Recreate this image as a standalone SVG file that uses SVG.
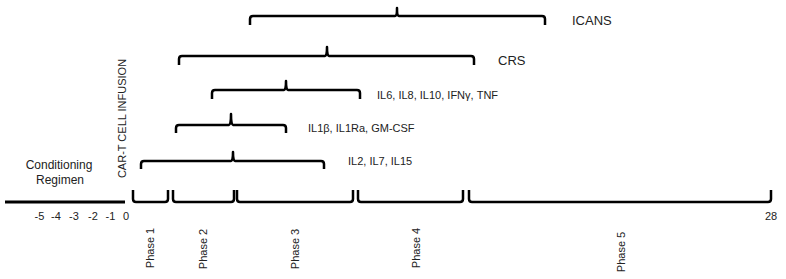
<svg xmlns="http://www.w3.org/2000/svg" width="786" height="279" viewBox="0 0 786 279">
<style>
.br{fill:none;stroke:#000;stroke-width:2.5;stroke-linejoin:round;stroke-linecap:butt}
.t{font-family:"Liberation Sans",Arial,sans-serif;font-size:11px;fill:#222}
.tl{font-family:"Liberation Sans",Arial,sans-serif;font-size:13px;fill:#222}
.tm{text-anchor:middle}
</style>
<rect width="786" height="279" fill="#fff"/>
<g id="connectors">
<line x1="5" y1="202" x2="125" y2="202" stroke="#000" stroke-width="3"/>
</g>
<g id="icans">
<path class="br" d="M250 25 V19 Q250 16 253 16 H395 Q397 16 397 8 Q397 16 399 16 H542 Q545 16 545 19 V25"/>
<text class="tl" x="572" y="25">ICANS</text>
</g>
<g id="crs">
<path class="br" d="M179 65 V59 Q179 56 182 56 H325 Q327 56 327 47 Q327 56 329 56 H471 Q474 56 474 59 V65"/>
<text class="tl" x="498" y="65">CRS</text>
</g>
<g id="il6">
<path class="br" d="M212 99 V93 Q212 90 215 90 H284 Q286 90 286 81 Q286 90 288 90 H357 Q360 90 360 93 V99"/>
<text class="t" x="377" y="99">IL6, IL8, IL10, IFNγ, TNF</text>
</g>
<g id="il1b">
<path class="br" d="M176 133 V128 Q176 125 179 125 H229 Q231 125 231 114 Q231 125 233 125 H283 Q286 125 286 128 V133"/>
<text class="t" x="308" y="132">IL1β, IL1Ra, GM-CSF</text>
</g>
<g id="il2">
<path class="br" d="M141 169 V164 Q141 161 144 161 H231 Q233 161 233 152 Q233 161 235 161 H321 Q324 161 324 164 V169"/>
<text class="t" x="348" y="165">IL2, IL7, IL15</text>
</g>
<g id="conditioning">
<text class="t tm" style="font-size:12px" x="59" y="169">Conditioning</text>
<text class="t tm" style="font-size:12px" x="60" y="184">Regimen</text>
</g>
<g id="infusion">
<text class="t tm" transform="translate(126 118.5) rotate(-90)">CAR-T CELL INFUSION</text>
</g>
<g id="ticks">
<text class="t tm" x="39.5" y="220">-5</text>
<text class="t tm" x="56" y="220">-4</text>
<text class="t tm" x="74" y="220">-3</text>
<text class="t tm" x="93" y="220">-2</text>
<text class="t tm" x="110.5" y="220">-1</text>
<text class="t tm" x="126" y="220">0</text>
<text class="t tm" x="771" y="220">28</text>
</g>
<g id="phase1">
<path class="br" d="M133 190 V199 Q133 202 136 202 H165 Q168 202 168 199 V190"/>
<text class="t tm" transform="translate(154 248) rotate(-90)">Phase 1</text>
</g>
<g id="phase2">
<path class="br" d="M173 190 V199 Q173 202 176 202 H231 Q234 202 234 199 V190"/>
<text class="t tm" transform="translate(207 249) rotate(-90)">Phase 2</text>
</g>
<g id="phase3">
<path class="br" d="M237 190 V199 Q237 202 240 202 H350 Q353 202 353 199 V190"/>
<text class="t tm" transform="translate(299 249) rotate(-90)">Phase 3</text>
</g>
<g id="phase4">
<path class="br" d="M358 190 V199 Q358 202 361 202 H460 Q463 202 463 199 V190"/>
<text class="t tm" transform="translate(420 248) rotate(-90)">Phase 4</text>
</g>
<g id="phase5">
<path class="br" d="M469 190 V199 Q469 202 472 202 H768 Q771 202 771 199 V190"/>
<text class="t tm" transform="translate(625 252) rotate(-90)">Phase 5</text>
</g>
</svg>
